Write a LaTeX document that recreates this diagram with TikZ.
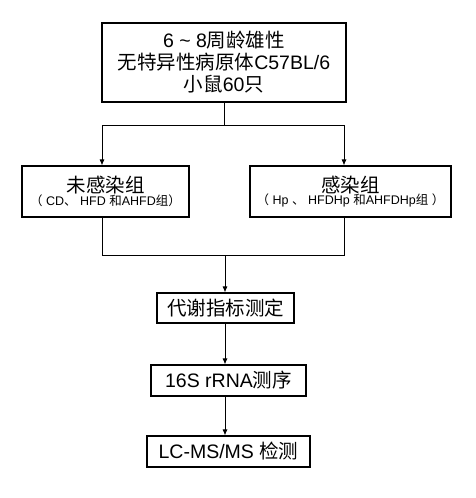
\documentclass[tikz,border=0pt]{standalone}
\usepackage{fontspec}
\setmainfont{Liberation Sans}
\newfontfamily\cjk{Noto Sans CJK SC}
\usetikzlibrary{arrows.meta,positioning}
\newcommand\zh[1]{{\cjk #1}}
\begin{document}
\begin{tikzpicture}[x=1pt,y=-1pt,
  box/.style={draw=black,line width=1.1pt,rectangle,inner sep=0pt,align=center,fill=white},
  big/.style={font=\fontsize{19.5}{22}\selectfont},
  line/.style={draw=black,line width=0.9pt},
  arr/.style={line,-{Latex[length=6pt,width=5pt]}}]
\useasboundingbox[fill=white] (0,0) rectangle (476,498);
\node[box,big,minimum width=244pt,minimum height=79pt] (top) at (224,62.5)
  {6 \char`\~\ 8\zh{周龄雄性}\\\zh{无特异性病原体}C57BL/6\\\zh{小鼠}60\zh{只}};
\node[box,minimum width=167pt,minimum height=51pt] (left) at (105.5,191.5)
  {\fontsize{19.5}{20}\selectfont\zh{未感染组}\\[-1pt]
   \fontsize{12.5}{14}\selectfont\zh{（} CD\zh{、} HFD \zh{和}AHFD\zh{组）}};
\node[box,minimum width=201pt,minimum height=51pt] (right) at (350.5,191.5)
  {\fontsize{19.5}{20}\selectfont\zh{感染组}\\[-1pt]
   \fontsize{12.5}{14}\selectfont\zh{（} Hp \zh{、} HFDHp \zh{和}AHFDHp\zh{组} \zh{）}};
\node[box,big,minimum width=137pt,minimum height=30pt] (meta) at (225.5,308) {\zh{代谢指标测定}};
\node[box,big,minimum width=155pt,minimum height=31pt] (seq) at (228.5,380.5) {16S rRNA\zh{测序}};
\node[box,big,minimum width=163pt,minimum height=31pt] (lcms) at (228.5,451.5) {LC-MS/MS \zh{检测}};
\coordinate (s) at (224,125);
\coordinate (sl) at (102,125);
\coordinate (sr) at (344,125);
\coordinate (ml) at (102,255);
\coordinate (mr) at (344,255);
\coordinate (mc) at (225,255);
\draw[line] (s |- top.south) -- (s);
\draw[line] (sl) -- (sr);
\draw[arr] (sl) -- (sl |- left.north);
\draw[arr] (sr) -- (sr |- right.north);
\draw[line] (ml |- left.south) -- (ml) -- (mr) -- (mr |- right.south);
\draw[arr] (mc) -- (mc |- meta.north);
\draw[arr] (mc |- meta.south) -- (mc |- seq.north);
\draw[arr] (mc |- seq.south) -- (mc |- lcms.north);
\end{tikzpicture}
\end{document}
